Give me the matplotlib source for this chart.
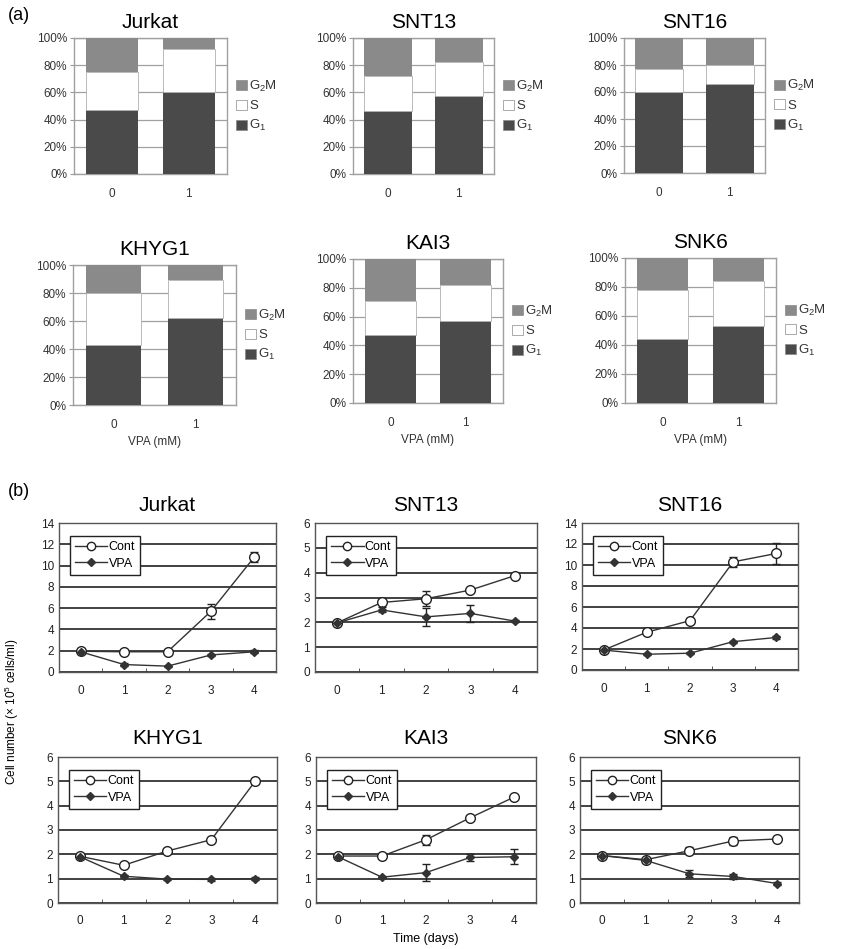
import matplotlib
matplotlib.use("Agg")
import matplotlib.pyplot as plt
import numpy as np
from matplotlib.patches import Patch
from matplotlib.lines import Line2D
from matplotlib.ticker import FixedLocator

plt.rcParams['font.family'] = ['Liberation Sans', 'DejaVu Sans']
plt.rcParams['mathtext.fontset'] = 'custom'
plt.rcParams['mathtext.rm'] = 'Liberation Sans'
plt.rcParams['mathtext.it'] = 'Liberation Sans:italic'
plt.rcParams['mathtext.bf'] = 'Liberation Sans:bold'

# ---------------- Data: panel (a) cell cycle (%) ----------------
cells = ["Jurkat", "SNT13", "SNT16", "KHYG1", "KAI3", "SNK6"]
vpa_mm = ["0", "1"]
g1 = {"Jurkat": [47, 60], "SNT13": [46, 57], "SNT16": [60, 66],
      "KHYG1": [43, 62], "KAI3": [47, 57], "SNK6": [44, 53]}
s_phase = {"Jurkat": [28, 32], "SNT13": [26, 25], "SNT16": [17, 14],
           "KHYG1": [37, 27], "KAI3": [24, 25], "SNK6": [34, 31]}
g2m = {"Jurkat": [25, 8], "SNT13": [28, 18], "SNT16": [23, 20],
       "KHYG1": [20, 11], "KAI3": [29, 18], "SNK6": [22, 16]}

# ---------------- Data: panel (b) growth (x10^5 cells/ml) ----------------
days = [0, 1, 2, 3, 4]
cont = {"Jurkat": [1.95, 1.9, 1.9, 5.7, 10.8],
        "SNT13": [1.98, 2.8, 2.95, 3.3, 3.88],
        "SNT16": [1.9, 3.6, 4.7, 10.3, 11.1],
        "KHYG1": [1.92, 1.55, 2.14, 2.6, 5.0],
        "KAI3": [1.93, 1.93, 2.6, 3.5, 4.35],
        "SNK6": [1.95, 1.78, 2.15, 2.55, 2.63]}
cont_err = {"Jurkat": [0, 0, 0, 0.7, 0.5],
            "SNT13": [0, 0.1, 0.3, 0.05, 0.1],
            "SNT16": [0, 0.1, 0.1, 0.5, 1.0],
            "KHYG1": [0, 0, 0, 0, 0],
            "KAI3": [0, 0, 0.2, 0.05, 0],
            "SNK6": [0, 0, 0.15, 0.15, 0]}
vpa = {"Jurkat": [1.9, 0.7, 0.55, 1.6, 1.9],
       "SNT13": [1.98, 2.5, 2.22, 2.36, 2.05],
       "SNT16": [1.9, 1.5, 1.6, 2.7, 3.1],
       "KHYG1": [1.9, 1.1, 0.98, 0.97, 1.0],
       "KAI3": [1.9, 1.06, 1.25, 1.87, 1.9],
       "SNK6": [1.95, 1.75, 1.2, 1.09, 0.8]}
vpa_err = {"Jurkat": [0, 0.1, 0.05, 0.1, 0.15],
           "SNT13": [0, 0.1, 0.35, 0.35, 0.05],
           "SNT16": [0, 0.1, 0.1, 0.1, 0.1],
           "KHYG1": [0, 0.05, 0.05, 0.05, 0.05],
           "KAI3": [0, 0.05, 0.35, 0.15, 0.3],
           "SNK6": [0, 0.1, 0.15, 0.1, 0.05]}
ymax_b = {"Jurkat": 14, "SNT13": 6, "SNT16": 14, "KHYG1": 6, "KAI3": 6, "SNK6": 6}
ystep_b = {"Jurkat": 2, "SNT13": 1, "SNT16": 2, "KHYG1": 1, "KAI3": 1, "SNK6": 1}

W, H = 845, 949
fig = plt.figure(figsize=(W / 100, H / 100), dpi=100)


def px_axes(l, r, t, b):
    return fig.add_axes([l / W, 1 - b / H, (r - l) / W, (b - t) / H])


# panel (a) axes pixel boxes (left, right, top, bottom)
boxes_a = {"Jurkat": (74, 227, 38, 174), "SNT13": (353, 494, 38, 174),
           "SNT16": (624, 765, 38, 173), "KHYG1": (73, 236, 265, 405),
           "KAI3": (353, 503, 259, 403), "SNK6": (625, 776, 258, 403)}
boxes_b = {"Jurkat": (59, 276, 523, 672), "SNT13": (315, 537, 523, 672),
           "SNT16": (582, 798, 523, 670), "KHYG1": (58, 277, 757, 903),
           "KAI3": (316, 536, 757, 903), "SNK6": (580, 799, 757, 903)}

C_G1 = "#4a4a4a"
C_G2M = "#8a8a8a"
C_S = "#ffffff"

for i, name in enumerate(cells):
    ax = px_axes(*boxes_a[name])
    x = np.arange(len(vpa_mm))
    a1 = np.array(g1[name]); a2 = np.array(s_phase[name]); a3 = np.array(g2m[name])
    w = 0.68
    ax.bar(x, a1, width=w, color=C_G1, zorder=3)
    ax.bar(x, a2, width=w, bottom=a1, color=C_S, edgecolor="#b0b0b0", lw=0.6, zorder=3)
    ax.bar(x, a3, width=w, bottom=a1 + a2, color=C_G2M, zorder=3)
    ax.set_xlim(-0.5, 1.5)
    ax.set_ylim(0, 100)
    ax.set_yticks(np.arange(0, 101, 20))
    ax.set_yticklabels([f"{v}%" for v in range(0, 101, 20)], fontsize=8.5, color="#333333")
    ax.set_xticks(x)
    ax.set_xticklabels(vpa_mm, fontsize=8.5, color="#333333")
    ax.tick_params(axis='x', length=0, pad=10)
    ax.tick_params(axis='y', length=3, color="#999999", pad=2)
    ax.grid(axis='y', color="#a0a0a0", lw=0.9, zorder=0)
    for sp in ax.spines.values():
        sp.set_color("#a0a0a0")
        sp.set_linewidth(1.0)
    ax.set_title(name, fontsize=15, pad=7)
    handles = [Patch(facecolor=C_G2M, edgecolor="#888888", lw=0.5, label="G$_2$M"),
               Patch(facecolor=C_S, edgecolor="#888888", lw=0.5, label="S"),
               Patch(facecolor=C_G1, edgecolor="#888888", lw=0.5, label="G$_1$")]
    ax.legend(handles=handles, loc='center left', bbox_to_anchor=(1.0, 0.5), frameon=False,
              fontsize=9.5, handlelength=0.8, handleheight=0.8, handletextpad=0.2,
              labelspacing=0.45, borderaxespad=0.3, labelcolor="#333333")
    if i >= 3:
        ax.set_xlabel("VPA (mM)", fontsize=8.5, color="#333333", labelpad=4)

for i, name in enumerate(cells):
    ax = px_axes(*boxes_b[name])
    ax.errorbar(days, cont[name], yerr=cont_err[name], color="#333333", lw=1.0,
                marker='o', ms=7, mfc='white', mec='#222222', mew=1.0,
                ecolor='#222222', elinewidth=1.0, capsize=3, zorder=4, label="Cont")
    ax.errorbar(days, vpa[name], yerr=vpa_err[name], color="#333333", lw=1.0,
                marker='D', ms=4.5, mfc='#333333', mec='#333333',
                ecolor='#222222', elinewidth=1.0, capsize=3, zorder=4, label="VPA")
    ax.set_xlim(-0.5, 4.5)
    ax.set_ylim(0, ymax_b[name])
    ax.set_yticks(np.arange(0, ymax_b[name] + 0.1, ystep_b[name]))
    ax.set_xticks(days)
    ax.tick_params(axis='both', labelsize=8.5, length=0, colors="#222222")
    ax.tick_params(axis='x', pad=9)
    ax.xaxis.set_minor_locator(FixedLocator([0.5, 1.5, 2.5, 3.5]))
    ax.tick_params(axis='x', which='minor', direction='in', length=3, color="#444444")
    ax.grid(axis='y', color="#333333", lw=1.3, zorder=0)
    for sp in ax.spines.values():
        sp.set_color("#555555")
        sp.set_linewidth(1.0)
    ax.set_title(name, fontsize=15, pad=9)
    leg_handles = [Line2D([0], [0], color="#333333", lw=1.0, marker='o', ms=6,
                          mfc='white', mec='#222222'),
                   Line2D([0], [0], color="#333333", lw=1.0, marker='D', ms=4,
                          mfc='#333333', mec='#333333')]
    leg = ax.legend(leg_handles, ["Cont", "VPA"], loc='upper left',
                    bbox_to_anchor=(0.05, 0.91), fontsize=9, handlelength=2.6,
                    handletextpad=0.1, borderpad=0.4, labelspacing=0.35,
                    fancybox=False, framealpha=1, edgecolor="#222222", borderaxespad=0)
    leg.get_frame().set_linewidth(1.0)
    if name == "KAI3":
        ax.set_xlabel("Time (days)", fontsize=9, labelpad=4)

fig.text(12 / W, 1 - 712 / H, "Cell number (× 10$^5$ cells/ml)", rotation=90,
         ha='center', va='center', fontsize=8.5)
fig.text(8 / W, 1 - 16 / H, "(a)", fontsize=13, ha='left', va='center')
fig.text(8 / W, 1 - 492 / H, "(b)", fontsize=13, ha='left', va='center')

fig.savefig("out.png", dpi=100)
